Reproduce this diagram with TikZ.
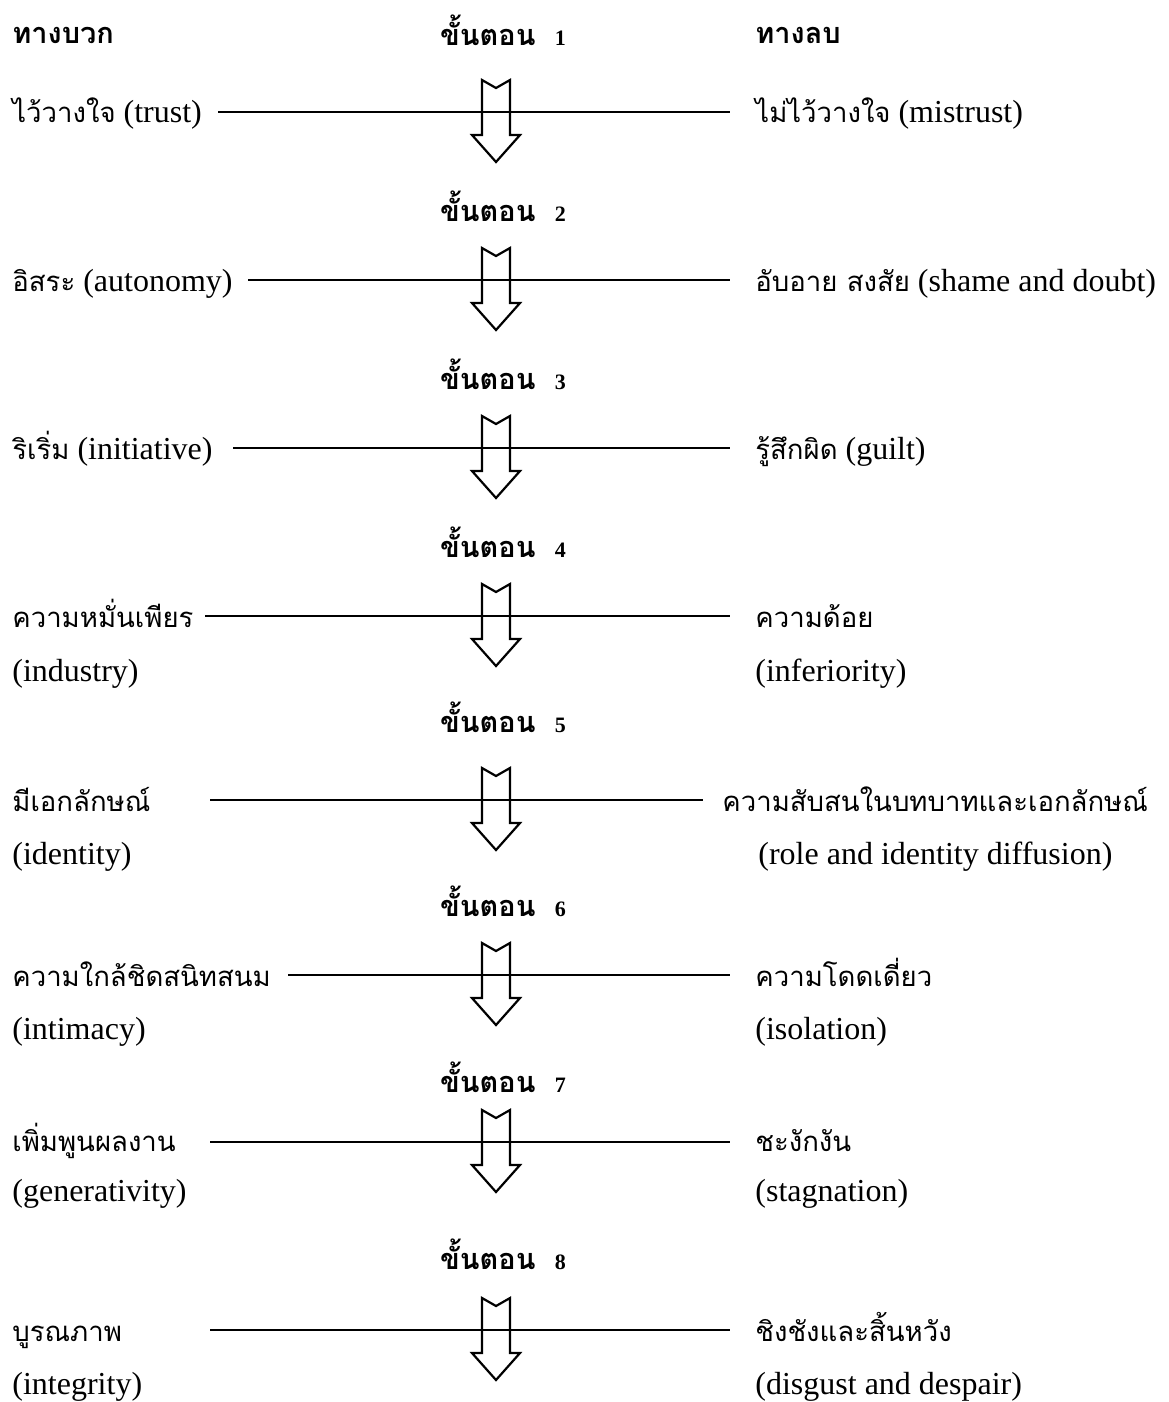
\documentclass[tikz,border=0pt]{standalone}
\usepackage{fontspec}
\setmainfont{Liberation Serif}
\newfontfamily\thai[Script=Thai,Scale=0.86]{Loma}
\usepackage{tikz}
\tikzstyle{side}=[anchor=base west,inner sep=0pt,font=\fontsize{16}{19}\selectfont]
\tikzstyle{head}=[anchor=base west,inner sep=0pt,font=\fontsize{16.8}{20}\selectfont\thai\bfseries]
\tikzstyle{stage}=[anchor=base,inner sep=0pt,font=\fontsize{16.8}{20}\selectfont\thai\bfseries]
\tikzstyle{bar}=[line width=0.75pt]
\tikzstyle{block}=[line width=1.1pt,line join=miter]
\newcommand{\num}[1]{{\fontsize{11}{13}\selectfont\rmfamily #1}}

\begin{document}
\begin{tikzpicture}[x=0.5pt,y=-0.5pt]
                    \useasboundingbox (0,0) rectangle (1168,1402);

                    \node (pos) at (12,44) [head] {ทางบวก};
                    \node (neg) at (755,44) [head] {ทางลบ};

                    \node (s1) at (503,46) [stage] {ขั้นตอน\ \ \num{1}};
                    \node (s2) at (503,221) [stage] {ขั้นตอน\ \ \num{2}};
                    \node (s3) at (503,389) [stage] {ขั้นตอน\ \ \num{3}};
                    \node (s4) at (503,557) [stage] {ขั้นตอน\ \ \num{4}};
                    \node (s5) at (503,732) [stage] {ขั้นตอน\ \ \num{5}};
                    \node (s6) at (503,916) [stage] {ขั้นตอน\ \ \num{6}};
                    \node (s7) at (503,1092) [stage] {ขั้นตอน\ \ \num{7}};
                    \node (s8) at (503,1269) [stage] {ขั้นตอน\ \ \num{8}};

                    \node (p1) at (12,123) [side] {{\thai ไว้วางใจ} (trust)};
                    \node (p2) at (12,291) [side] {{\thai อิสระ} (autonomy)};
                    \node (p3) at (12,459) [side] {{\thai ริเริ่ม} (initiative)};
                    \node (p4) at (12,627) [side] {\thai ความหมั่นเพียร};
                    \node (p4e) at (12,681) [side] {(industry)};
                    \node (p5) at (12,811) [side] {\thai มีเอกลักษณ์};
                    \node (p5e) at (12,864) [side] {(identity)};
                    \node (p6) at (12,986) [side] {\thai ความใกล้ชิดสนิทสนม};
                    \node (p6e) at (12,1039) [side] {(intimacy)};
                    \node (p7) at (12,1151) [side] {\thai เพิ่มพูนผลงาน};
                    \node (p7e) at (12,1201) [side] {(generativity)};
                    \node (p8) at (12,1341) [side] {\thai บูรณภาพ};
                    \node (p8e) at (12,1394) [side] {(integrity)};

                    \node (n1) at (755,123) [side] {{\thai ไม่ไว้วางใจ} (mistrust)};
                    \node (n2) at (755,291) [side] {{\thai อับอาย สงสัย} (shame and doubt)};
                    \node (n3) at (755,459) [side] {{\thai รู้สึกผิด} (guilt)};
                    \node (n4) at (755,627) [side] {\thai ความด้อย};
                    \node (n4e) at (755,681) [side] {(inferiority)};
                    \node (n5) at (722,811) [side] {\thai ความสับสนในบทบาทและเอกลักษณ์};
                    \node (n5e) at (758,864) [side] {(role and identity diffusion)};
                    \node (n6) at (755,986) [side] {\thai ความโดดเดี่ยว};
                    \node (n6e) at (755,1039) [side] {(isolation)};
                    \node (n7) at (755,1151) [side] {\thai ชะงักงัน};
                    \node (n7e) at (755,1201) [side] {(stagnation)};
                    \node (n8) at (755,1341) [side] {\thai ชิงชังและสิ้นหวัง};
                    \node (n8e) at (755,1394) [side] {(disgust and despair)};

                    % line ends beside the texts
                    \coordinate (a1) at (218,112);  \coordinate (b1) at (730,112);
                    \coordinate (a2) at (248,280);  \coordinate (b2) at (730,280);
                    \coordinate (a3) at (233,448);  \coordinate (b3) at (730,448);
                    \coordinate (a4) at (205,616);  \coordinate (b4) at (730,616);
                    \coordinate (a5) at (210,800);  \coordinate (b5) at (703,800);
                    \coordinate (a6) at (288,975);  \coordinate (b6) at (730,975);
                    \coordinate (a7) at (210,1142); \coordinate (b7) at (730,1142);
                    \coordinate (a8) at (210,1330); \coordinate (b8) at (730,1330);

                    \draw [bar] (a1) -- (b1);
                    \draw [bar] (a2) -- (b2);
                    \draw [bar] (a3) -- (b3);
                    \draw [bar] (a4) -- (b4);
                    \draw [bar] (a5) -- (b5);
                    \draw [bar] (a6) -- (b6);
                    \draw [bar] (a7) -- (b7);
                    \draw [bar] (a8) -- (b8);

                    % hollow arrows
                    \draw [block] (482,80) -- ++(0,55) -- ++(-10,0) -- ++(24,27) -- ++(24,-27) -- ++(-10,0) -- ++(0,-55) -- ++(-14,8) -- cycle;
                    \draw [block] (482,248) -- ++(0,55) -- ++(-10,0) -- ++(24,27) -- ++(24,-27) -- ++(-10,0) -- ++(0,-55) -- ++(-14,8) -- cycle;
                    \draw [block] (482,416) -- ++(0,55) -- ++(-10,0) -- ++(24,27) -- ++(24,-27) -- ++(-10,0) -- ++(0,-55) -- ++(-14,8) -- cycle;
                    \draw [block] (482,584) -- ++(0,55) -- ++(-10,0) -- ++(24,27) -- ++(24,-27) -- ++(-10,0) -- ++(0,-55) -- ++(-14,8) -- cycle;
                    \draw [block] (482,768) -- ++(0,55) -- ++(-10,0) -- ++(24,27) -- ++(24,-27) -- ++(-10,0) -- ++(0,-55) -- ++(-14,8) -- cycle;
                    \draw [block] (482,943) -- ++(0,55) -- ++(-10,0) -- ++(24,27) -- ++(24,-27) -- ++(-10,0) -- ++(0,-55) -- ++(-14,8) -- cycle;
                    \draw [block] (482,1110) -- ++(0,55) -- ++(-10,0) -- ++(24,27) -- ++(24,-27) -- ++(-10,0) -- ++(0,-55) -- ++(-14,8) -- cycle;
                    \draw [block] (482,1298) -- ++(0,55) -- ++(-10,0) -- ++(24,27) -- ++(24,-27) -- ++(-10,0) -- ++(0,-55) -- ++(-14,8) -- cycle;
                \end{tikzpicture}
\end{document}
